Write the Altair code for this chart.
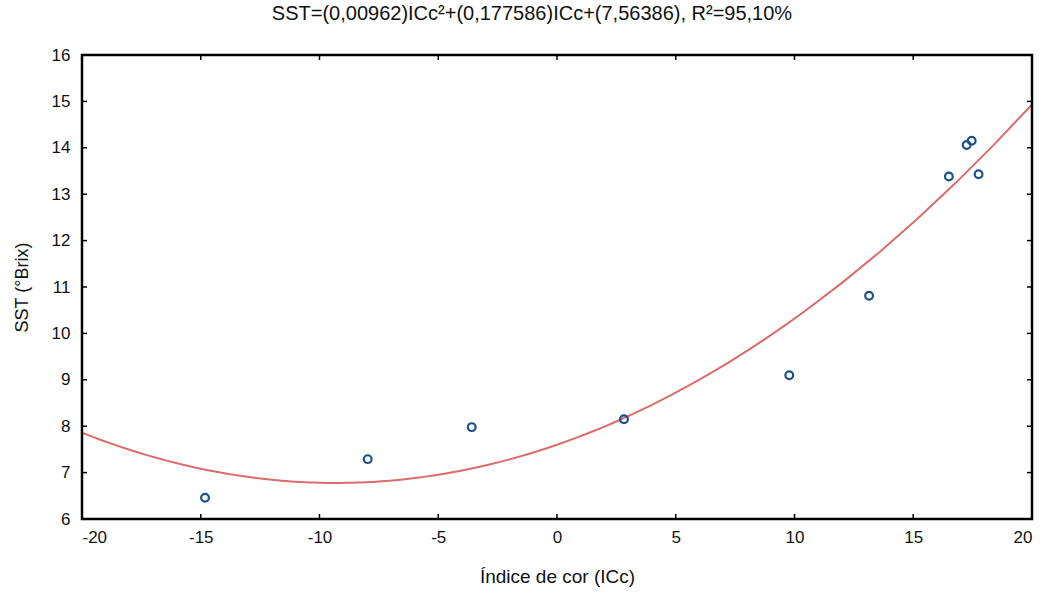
import altair as alt
import pandas as pd

# data
ic = [-14.82, -7.97, -3.59, 2.82, 9.78, 13.14, 16.50, 17.25, 17.46, 17.75]
sst = [6.46, 7.29, 7.98, 8.15, 9.10, 10.81, 13.38, 14.06, 14.15, 13.43]

x_ticks = [-20, -15, -10, -5, 0, 5, 10, 15, 20]
y_ticks = [6, 7, 8, 9, 10, 11, 12, 13, 14, 15, 16]
x_inner = [-15, -10, -5, 0, 5, 10, 15]
y_inner = [7, 8, 9, 10, 11, 12, 13, 14, 15]

W, H = 950, 464
FONT = "Liberation Sans"

df = pd.DataFrame({"ic": ic, "sst": sst})
xt = pd.DataFrame({"v": x_inner})
yt = pd.DataFrame({"v": y_inner})
frame_df = pd.DataFrame({"k": [0]})

xscale = alt.Scale(domain=[-20, 20], nice=False, zero=False)
yscale = alt.Scale(domain=[6, 16], nice=False, zero=False)

xaxis = alt.Axis(values=x_ticks, tickSize=0, domain=False, grid=False,
                 labelExpr="toString(datum.value)",
                 labelFont=FONT, labelFontSize=17, labelColor="#111",
                 labelPadding=10, titleFont=FONT, titleFontSize=19,
                 titleFontWeight="normal", titleColor="#111", titlePadding=22)
yaxis = alt.Axis(values=y_ticks, tickSize=0, domain=False, grid=False,
                 labelExpr="toString(datum.value)",
                 labelFont=FONT, labelFontSize=17, labelColor="#111",
                 labelPadding=12, titleFont=FONT, titleFontSize=18,
                 titleFontWeight="normal", titleColor="#111", titlePadding=20)

curve = alt.Chart(df).transform_regression(
    "ic", "sst", method="poly", order=2, extent=[-20, 20]
).mark_line(color="#dc6b6b", strokeWidth=2, clip=True).encode(
    x=alt.X("ic:Q", scale=xscale, axis=xaxis, title="Índice de cor (ICᴄ)"),
    y=alt.Y("sst:Q", scale=yscale, axis=yaxis, title="SST (°Brix)"),
)

points = alt.Chart(df).mark_point(
    shape="circle", filled=False, color="#1c4f8c", size=60, strokeWidth=2.2,
    opacity=1
).encode(x=alt.X("ic:Q", scale=xscale), y=alt.Y("sst:Q", scale=yscale))

frame = alt.Chart(frame_df).mark_rect(
    fill=None, stroke="#000", strokeWidth=2.5
).encode(x=alt.value(0), x2=alt.value(W), y=alt.value(0), y2=alt.value(H))

tick_bottom = alt.Chart(xt).mark_rule(color="#000", strokeWidth=1.5).encode(
    x=alt.X("v:Q", scale=xscale), y=alt.value(H), y2=alt.value(H - 5))
tick_top = alt.Chart(xt).mark_rule(color="#000", strokeWidth=1.5).encode(
    x=alt.X("v:Q", scale=xscale), y=alt.value(0), y2=alt.value(5))
tick_left = alt.Chart(yt).mark_rule(color="#000", strokeWidth=1.5).encode(
    y=alt.Y("v:Q", scale=yscale), x=alt.value(0), x2=alt.value(5))
tick_right = alt.Chart(yt).mark_rule(color="#000", strokeWidth=1.5).encode(
    y=alt.Y("v:Q", scale=yscale), x=alt.value(W), x2=alt.value(W - 5))

chart = alt.layer(curve, points, frame, tick_bottom, tick_top, tick_left, tick_right).properties(
    width=W, height=H,
    title=alt.TitleParams(
        "SST=(0,00962)ICᴄ²+(0,177586)ICᴄ+(7,56386), R²=95,10%",
        font=FONT, fontSize=20, fontWeight="normal", color="#111",
        anchor="middle", offset=22, dx=-25,
    ),
    autosize=alt.AutoSizeParams(type="none"),
    padding={"left": 82, "top": 55, "right": 13, "bottom": 80},
).configure_view(stroke=None).configure(background="white")

chart.save("out.html", embed_options={"renderer": "svg", "actions": False})
